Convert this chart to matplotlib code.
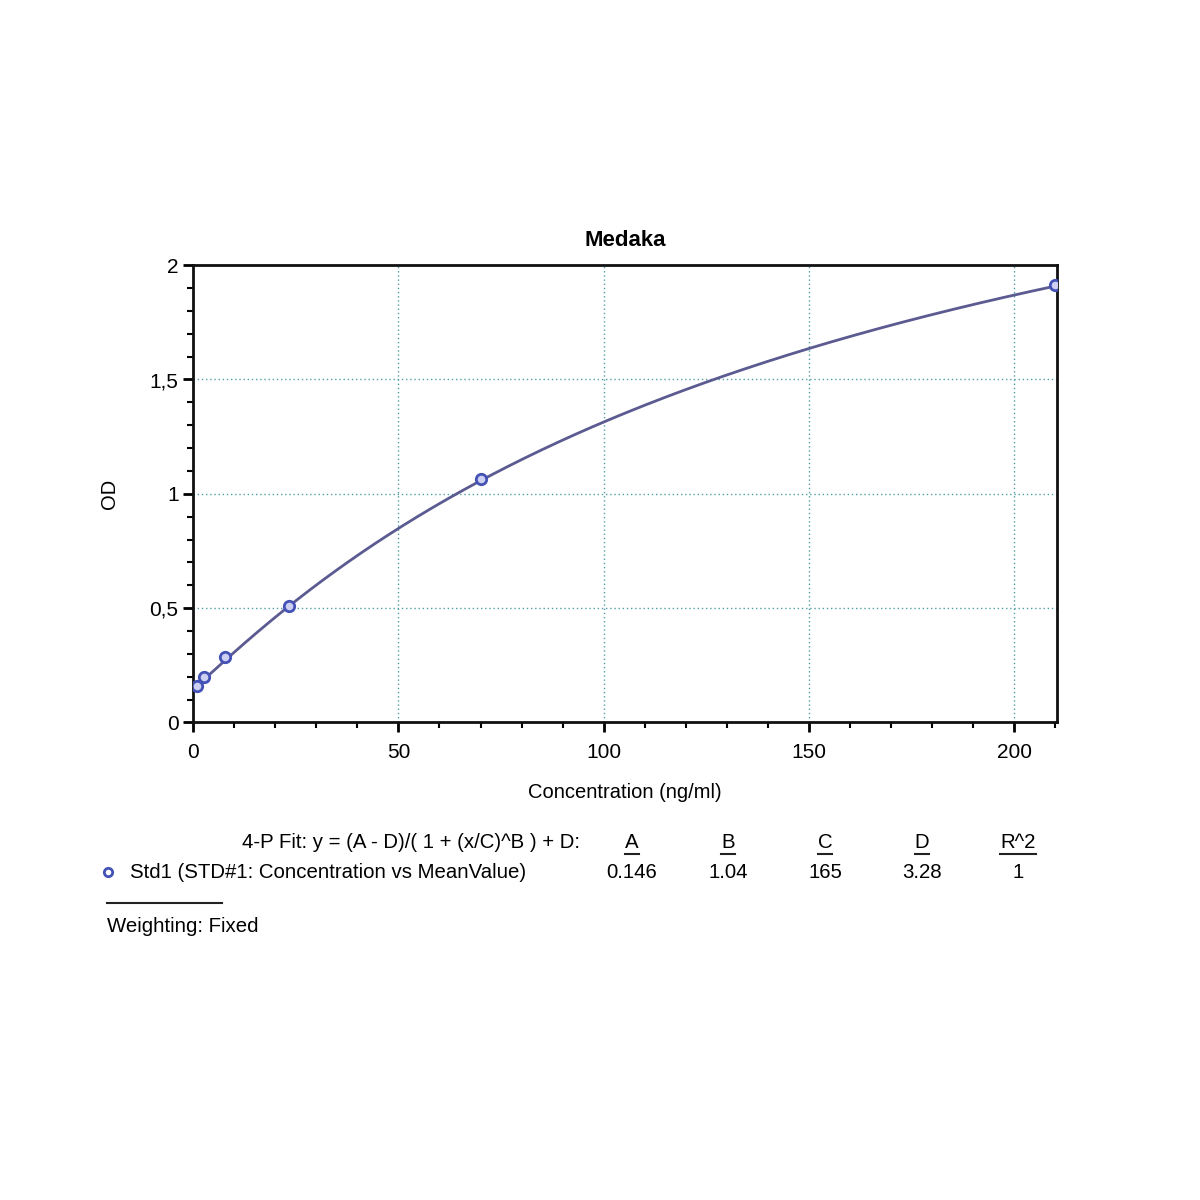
import numpy as np
import matplotlib
matplotlib.use("Agg")
import matplotlib.pyplot as plt
from matplotlib.ticker import MultipleLocator, FuncFormatter
from matplotlib.lines import Line2D

plt.rcParams['font.family'] = ['Liberation Sans', 'DejaVu Sans']

# standards
conc = [0.86, 2.59, 7.78, 23.3, 70, 210]
od = [0.158, 0.200, 0.284, 0.511, 1.065, 1.915]

# fit parameters printed under the chart
param_names = ['A', 'B', 'C', 'D', 'R^2']
param_values = ['0.146', '1.04', '165', '3.28', '1']
A, B, C, D = 0.146, 1.04, 165, 3.28

fig = plt.figure(figsize=(12, 12), dpi=100)
ax = fig.add_axes([0.161, 0.398, 0.72, 0.381])

xs = np.linspace(0.5, 210, 400)
fit = (A - D) / (1 + (xs / C) ** B) + D
ax.plot(xs, fit, color='#5b5b92', lw=2, zorder=3)
ax.plot(conc, od, 'o', ms=7.5, mfc='#cdd0f2', mec='#4552b5', mew=2, zorder=4)

ax.set_xlim(0, 210.5)
ax.set_ylim(0, 2)
ax.xaxis.set_major_locator(MultipleLocator(50))
ax.xaxis.set_minor_locator(MultipleLocator(10))
ax.yaxis.set_major_locator(MultipleLocator(0.5))
ax.yaxis.set_minor_locator(MultipleLocator(0.1))
comma = FuncFormatter(lambda v, p: ('%g' % v).replace('.', ','))
ax.yaxis.set_major_formatter(comma)
ax.tick_params(which='major', direction='out', length=7, width=2, labelsize=15)
ax.tick_params(axis='x', which='major', pad=8)
ax.tick_params(which='minor', direction='out', length=4, width=1.5)
for s in ax.spines.values():
    s.set_linewidth(2)
    s.set_color('#111111')

ax.grid(True, which='major', color='#4f9ea6', lw=1, linestyle=(0, (1, 2)))

ax.set_title('Medaka', fontsize=16, fontweight='bold', pad=14)
ax.set_xlabel('Concentration (ng/ml)', fontsize=14.5, labelpad=15)
ax.set_ylabel('OD', fontsize=14.5, labelpad=22)

# fit summary table
fs = 14.7
fig.text(580 / 1200, 1 - 843 / 1200, '4-P Fit: y = (A - D)/( 1 + (x/C)^B ) + D:',
         ha='right', va='center', fontsize=fs)
col_x = [632, 728, 825, 922, 1018]
renderer = fig.canvas.get_renderer()
for name, val, cx in zip(param_names, param_values, col_x):
    t = fig.text(cx / 1200, 1 - 843 / 1200, name, ha='center', va='center', fontsize=fs)
    bb = t.get_window_extent(renderer).transformed(fig.transFigure.inverted())
    fig.add_artist(Line2D([bb.x0, bb.x1], [bb.y0 - 0.001, bb.y0 - 0.001], color='#222222', lw=1.5))
    fig.text(cx / 1200, 1 - 872 / 1200, val, ha='center', va='center', fontsize=fs)

fig.add_artist(Line2D([108 / 1200], [1 - 872 / 1200], marker='o', ms=6, mfc='white',
                      mec='#4552b5', mew=2))
fig.text(130 / 1200, 1 - 872 / 1200, 'Std1 (STD#1: Concentration vs MeanValue)',
         ha='left', va='center', fontsize=fs)
fig.add_artist(Line2D([107 / 1200, 222 / 1200], [1 - 903 / 1200, 1 - 903 / 1200],
                      color='#222222', lw=1.5))
fig.text(107 / 1200, 1 - 927 / 1200, 'Weighting: Fixed', ha='left', va='center', fontsize=fs)

fig.savefig('out.png', dpi=100)
